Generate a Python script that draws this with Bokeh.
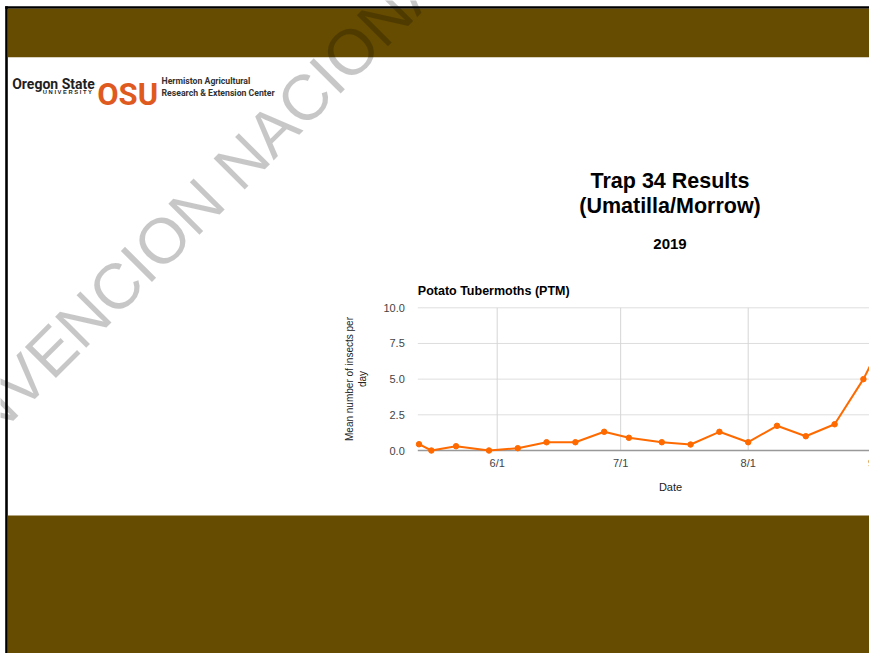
import pandas as pd
from bokeh.plotting import figure
from bokeh.models import (ColumnDataSource, FixedTicker, NumeralTickFormatter, Label,
                          BoxAnnotation, Range1d, LinearAxis, DatetimeAxis)
from bokeh.embed import file_html
from bokeh.resources import INLINE

# ---------------- data ----------------
dates = ["2019-05-13", "2019-05-16", "2019-05-22", "2019-05-30", "2019-06-06", "2019-06-13",
         "2019-06-20", "2019-06-27", "2019-07-03", "2019-07-11", "2019-07-18", "2019-07-25",
         "2019-08-01", "2019-08-08", "2019-08-15", "2019-08-22", "2019-08-29", "2019-09-05"]
ptm = [0.44, 0.0, 0.30, 0.0, 0.16, 0.58, 0.58, 1.31, 0.89, 0.58, 0.42, 1.31,
       0.58, 1.73, 1.0, 1.84, 5.0, 9.0]
x_tick_dates = ["2019-06-01", "2019-07-01", "2019-08-01", "2019-09-01"]
x_tick_labels = ["6/1", "7/1", "8/1", "9/1"]
y_ticks = [0, 2.5, 5, 7.5, 10]

chart_title = "Potato Tubermoths (PTM)"
y_title = "Mean number of insects per\nday"
x_title = "Date"
slide_title = ["Trap 34 Results", "(Umatilla/Morrow)"]
slide_year = "2019"
watermark = "CONVENCION NACIONAL"

# ---------------- styling / layout (page pixels) ----------------
BROWN = "#664C00"
ORANGE = "#FF6A00"
OSU_ORANGE = "#DF5A1E"
FONT = "Liberation Sans"
LOGO_FONT = "Roboto"
CW, CH = 869, 653

# chart area on the slide: two reference ticks on each axis give the scales
X_REF = (("2019-06-01", 496.7), ("2019-08-01", 747.7))
Y_REF = ((0.0, 450.0), (10.0, 307.3))
CHART_L, CHART_R = 417.3, 922.7


def ms(d):
    return float(pd.Timestamp(d).value // 10**6)


def lin(v0, p0, v1, p1):
    k = (v1 - v0) / (p1 - p0)
    return lambda P: v0 + (P - p0) * k


date_at = lin(ms(X_REF[0][0]), X_REF[0][1], ms(X_REF[1][0]), X_REF[1][1])
val_at = lin(Y_REF[0][0], Y_REF[0][1], Y_REF[1][0], Y_REF[1][1])
chart_l, chart_r = date_at(CHART_L), date_at(CHART_R)

src = ColumnDataSource(dict(date=[ms(d) for d in dates], ptm=ptm))
tick_ms = [ms(d) for d in x_tick_dates]

p = figure(width=CW, height=CH, output_backend="svg", toolbar_location=None,
           x_range=Range1d(0, CW), y_range=Range1d(CH, 0),
           x_axis_location=None, y_axis_location=None, min_border=0)
p.extra_x_ranges = {"date": Range1d(date_at(0), date_at(CW))}
p.extra_y_ranges = {"val": Range1d(val_at(CH), val_at(0))}
p.outline_line_color = None
p.background_fill_color = "white"
p.border_fill_color = "white"
p.xgrid.visible = False
p.ygrid.visible = False

# grid lines
n_h = len(y_ticks) - 1
p.segment(x0=[chart_l] * n_h, x1=[chart_r] * n_h, y0=y_ticks[1:], y1=y_ticks[1:],
          x_range_name="date", y_range_name="val", line_color="#dedede", line_width=1)
p.segment(x0=tick_ms, x1=tick_ms, y0=[y_ticks[0]] * len(tick_ms), y1=[y_ticks[-1]] * len(tick_ms),
          x_range_name="date", y_range_name="val", line_color="#d6d6d6", line_width=1)
p.segment(x0=[chart_l], x1=[chart_r], y0=[y_ticks[0]], y1=[y_ticks[0]],
          x_range_name="date", y_range_name="val", line_color="#999999", line_width=1.6)

# series
p.line("date", "ptm", source=src, x_range_name="date", y_range_name="val",
       line_color=ORANGE, line_width=2)
p.scatter("date", "ptm", source=src, x_range_name="date", y_range_name="val",
          size=5.5, fill_color=ORANGE, line_color=ORANGE)

# axes
ya = LinearAxis(x_range_name="date", y_range_name="val", fixed_location=chart_l,
                bounds=(y_ticks[0], y_ticks[-1]),
                ticker=FixedTicker(ticks=y_ticks), formatter=NumeralTickFormatter(format="0.0"))
ya.axis_line_color = None
ya.major_tick_line_color = None
ya.minor_tick_line_color = None
ya.major_tick_out = 0
ya.major_tick_in = 0
ya.major_label_standoff = 13
ya.major_label_text_font = FONT
ya.major_label_text_font_size = "11px"
ya.major_label_text_color = "#444444"
ya.axis_label = y_title
ya.axis_label_text_font = FONT
ya.axis_label_text_font_size = "10px"
ya.axis_label_text_font_style = "normal"
ya.axis_label_text_color = "#222222"
ya.axis_label_standoff = 12
p.add_layout(ya, "left")

xa = DatetimeAxis(x_range_name="date", y_range_name="val", fixed_location=y_ticks[0],
                  bounds=(chart_l, chart_r), ticker=FixedTicker(ticks=tick_ms))
xa.major_label_overrides = {t: l for t, l in zip(tick_ms, x_tick_labels)}
xa.axis_line_color = None
xa.major_tick_line_color = None
xa.minor_tick_line_color = None
xa.major_tick_out = 0
xa.major_tick_in = 0
xa.major_label_standoff = 6
xa.major_label_text_font = FONT
xa.major_label_text_font_size = "11px"
xa.major_label_text_color = "#444444"
p.add_layout(xa, "below")

# the last tick sits just past the slide edge; the axis drops it, so label it on the same scale
p.add_layout(Label(text=x_tick_labels[-1], x=tick_ms[-1], y=y_ticks[0],
                   x_range_name="date", y_range_name="val", y_offset=-6,
                   text_font=FONT, text_font_size="11px", text_color="#444444",
                   text_align="center", text_baseline="top"))


def box(left, right, top, bottom, color):
    p.add_layout(BoxAnnotation(left=left, right=right, top=top, bottom=bottom,
                               fill_color=color, fill_alpha=1.0, line_color=None))


def label(text, X, Y, size, font=FONT, style="bold", color="black", align="left",
          baseline="alphabetic", angle=0, alpha=1.0):
    p.add_layout(Label(text=text, x=X, y=Y,
                       text_font=font, text_font_size=f"{size}px", text_font_style=style,
                       text_color=color, text_align=align, text_baseline=baseline,
                       angle=angle, angle_units="deg", text_alpha=alpha))


# slide frame and bands
box(4.7, 7.3, 5.7, CH, "black")
box(4.7, CW, 5.7, 8.3, "black")
box(7.3, CW, 8.3, 56.7, BROWN)
box(7.3, CW, 515, CH, BROWN)

# logo
label("Oregon State", 11.7, 83.3, 14, font=LOGO_FONT, color="#1f1f1f")
label("U N I V E R S I T Y", 42.3, 91, 5.8, color="#1f1f1f")
label("OSU", 96.7, 94, 31, font=LOGO_FONT, color=OSU_ORANGE)
label("Hermiston Agricultural", 161, 80, 8.7, font=LOGO_FONT, color="#333333")
label("Research & Extension Center", 161, 92, 8.7, font=LOGO_FONT, color="#333333")

# slide titles
label(slide_title[0], 669.5, 180.5, 21.5, align="center")
label(slide_title[1], 669.5, 205.5, 21.5, align="center")
label(slide_year, 669.5, 243.3, 15, align="center")

# chart titles
label(chart_title, CHART_L, 290.5, 12.5)
label(x_title, (CHART_L + CHART_R) / 2, 486, 11, style="normal", color="#222222", align="center")

# watermark
label(watermark, -94.5, 496.5, 64, style="normal", color="black", angle=45, alpha=0.22)

open("out.html", "w").write(file_html(p, INLINE))
